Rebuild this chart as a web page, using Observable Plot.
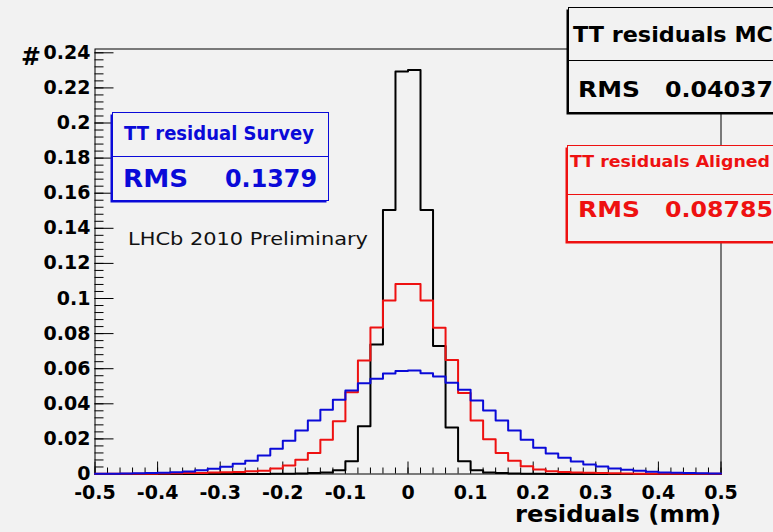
<!DOCTYPE html>
<html><head><meta charset="utf-8">
<script src="https://cdn.jsdelivr.net/npm/d3@7"></script>
<script src="https://cdn.jsdelivr.net/npm/@observablehq/plot@0.6"></script>
<style>
html,body{margin:0;padding:0;background:#f2f2f2;overflow:hidden;}
#chart{position:relative;width:773px;height:532px;overflow:hidden;}
</style></head><body><div id="chart"></div>
<script>
// ---- data ----
const binCount = 50;
const binWidth = 0.02;
const xStart = -0.5;
const binLow = d3.range(binCount).map(i => Math.round((xStart + i * binWidth) * 100) / 100);

const mcValues = [0,0,0,0,0,0,0,0,0,0,0,0,0,0,
  0.0001,0.0002,0.0003,0.0005,0.0009,0.0022,0.0072,0.0272,0.0738,0.1505,0.2294,
  0.2302,0.1505,0.0730,0.0265,0.0073,0.0021,0.0009,0.0005,0.0003,0.0002,0.0001,
  0,0,0,0,0,0,0,0,0,0,0,0,0,0];
const alignedValues = [0.0001,0.0001,0.0001,0.0002,0.0002,0.0003,0.0004,0.0005,0.0006,0.0008,
  0.0010,0.0012,0.0015,0.0018,0.0031,0.0048,0.0081,0.0119,0.0195,0.0301,
  0.0466,0.0647,0.0835,0.0989,0.1082,0.1082,0.0989,0.0833,0.0650,0.0462,
  0.0305,0.0198,0.0120,0.0075,0.0044,0.0026,0.0016,0.0012,0.0009,0.0007,
  0.0005,0.0004,0.0003,0.0002,0.0001,0.0001,0.0001,0.0001,0.0001,0.0001];
const surveyValues = [0.0002,0.0002,0.0003,0.0004,0.0005,0.0007,0.0010,0.0014,0.0022,0.0030,
  0.0041,0.0058,0.0075,0.0105,0.0144,0.0190,0.0248,0.0305,0.0366,0.0423,
  0.0476,0.0517,0.0543,0.0572,0.0587,0.0590,0.0574,0.0556,0.0520,0.0480,
  0.0419,0.0362,0.0305,0.0248,0.0195,0.0149,0.0117,0.0092,0.0071,0.0054,
  0.0043,0.0031,0.0024,0.0018,0.0013,0.0009,0.0007,0.0005,0.0004,0.0003];

const xTickLabels = [-0.5,-0.4,-0.3,-0.2,-0.1,0,0.1,0.2,0.3,0.4,0.5];
const xMinorTicks = d3.range(51).map(i => Math.round((-0.5 + i * 0.02) * 100) / 100);
const yTickLabels = [0,0.02,0.04,0.06,0.08,0.1,0.12,0.14,0.16,0.18,0.2,0.22,0.24];
const yMinorTicks = d3.range(61).map(i => Math.round(i * 0.004 * 1000) / 1000);

const boxTitles = ["TT residual Survey", "TT residuals MC", "TT residuals Aligned"];
const boxRms = ["0.1379", "0.04037", "0.08785"];
const xTitle = "residuals (mm)";
const yTitle = "#";
const note = "LHCb 2010 Preliminary";

// ---- styles ----
const BLUE = "#0a0ad8", RED = "#ee1111", BLACK = "#000";
const frameW = 626, frameH = 425;

function stepData(vals) {
  const pts = vals.map((v, i) => ({x: binLow[i], y: v}));
  pts.push({x: 0.5, y: vals[vals.length - 1]});
  return pts;
}

const plot = Plot.plot({
  width: 773, height: 532,
  marginLeft: 94.5, marginRight: 52.5, marginTop: 48.5, marginBottom: 58.5,
  style: {background: "#f2f2f2", color: "black", fontFamily: "DejaVu Sans"},
  x: {domain: [-0.5, 0.5], range: [94.5, 720.5]},
  y: {domain: [0, 0.24217], range: [473.5, 48.5]},
  marks: [
    Plot.frame({stroke: BLACK}),
    Plot.tickX(xMinorTicks, {x: d => d, insetTop: frameH - 6, stroke: BLACK}),
    Plot.tickX(xTickLabels, {x: d => d, insetTop: frameH - 12, stroke: BLACK}),
    Plot.tickY(yMinorTicks, {y: d => d, insetRight: frameW - 9, stroke: BLACK}),
    Plot.tickY(yTickLabels, {y: d => d, insetRight: frameW - 19, stroke: BLACK}),
    Plot.line(stepData(mcValues), {x: "x", y: "y", curve: "step-after", stroke: BLACK, strokeWidth: 2}),
    Plot.line(stepData(alignedValues), {x: "x", y: "y", curve: "step-after", stroke: RED, strokeWidth: 2}),
    Plot.line(stepData(surveyValues), {x: "x", y: "y", curve: "step-after", stroke: BLUE, strokeWidth: 2}),
    Plot.axisX({ticks: xTickLabels, tickSize: 0, tickPadding: 11, tickFormat: d => String(d),
      fontSize: 19, fontWeight: "bold", label: null}),
    Plot.axisY({ticks: yTickLabels, tickSize: 0, tickPadding: 4.5, tickFormat: d => String(d),
      fontSize: 19, fontWeight: "bold", label: null})
  ]
});
document.getElementById("chart").appendChild(plot);

// ---- annotations (stat boxes, titles) ----
const g = d3.select(plot).append("g").attr("font-family", "DejaVu Sans").attr("text-anchor", "start");
function txt(s, x, y, size, len, color, weight) {
  g.append("text").attr("x", x).attr("y", y).attr("font-size", size)
    .attr("text-anchor", "start")
    .attr("font-weight", weight || "bold").attr("fill", color)
    .attr("textLength", len).attr("lengthAdjust", "spacingAndGlyphs").text(s);
}
function box(x, y, w, h, div, color) {
  g.append("rect").attr("x", x - 2).attr("y", y + 2).attr("width", w).attr("height", h).attr("fill", color);
  g.append("rect").attr("x", x).attr("y", y).attr("width", w).attr("height", h)
    .attr("fill", "#f2f2f2").attr("stroke", color).attr("stroke-width", 1);
  g.append("line").attr("x1", x).attr("x2", x + w).attr("y1", div).attr("y2", div)
    .attr("stroke", color).attr("stroke-width", 1);
}
// Survey
box(112.5, 112.5, 216, 88, 156.5, BLUE);
txt(boxTitles[0], 124, 140, 20, 190, BLUE);
txt("RMS", 123, 186.5, 25, 65, BLUE);
txt(boxRms[0], 225, 186.5, 25, 92, BLUE);
// MC
box(568.5, 7.5, 215, 105, 60.5, BLACK);
txt(boxTitles[1], 573, 41.5, 21, 200, BLACK);
txt("RMS", 578, 96.5, 21, 62, BLACK);
txt(boxRms[1], 665, 96.5, 21, 108, BLACK);
// Aligned
box(567.5, 145.5, 215, 96, 194.5, RED);
txt(boxTitles[2], 570, 166.5, 16, 200, RED);
txt("RMS", 578, 216.5, 21, 62, RED);
txt(boxRms[2], 665, 216.5, 21, 108, RED);
// note and axis titles
txt(note, 128, 245, 18, 240, "#111", "normal");
txt(yTitle, 21, 65, 24, 20, BLACK);
txt(xTitle, 515, 521.5, 23, 206, BLACK);
</script>
</body></html>
